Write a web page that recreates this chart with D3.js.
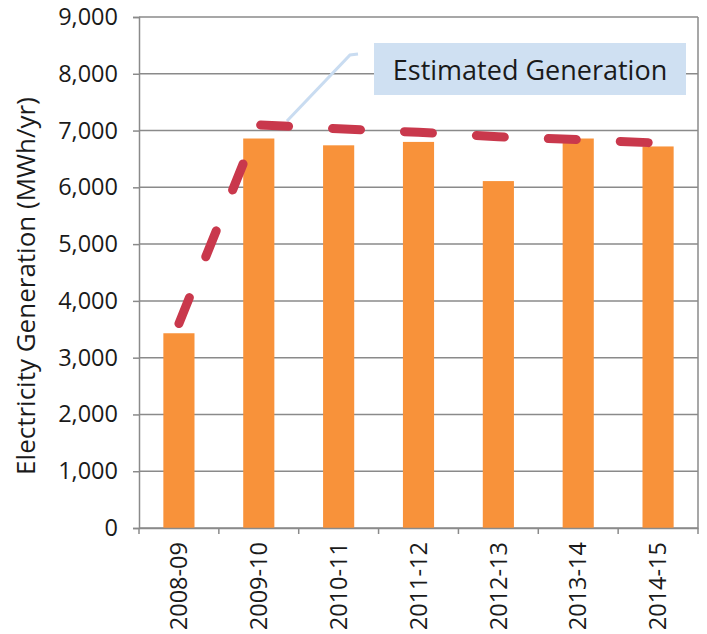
<!DOCTYPE html>
<html><head><meta charset="utf-8">
<script src="https://cdn.jsdelivr.net/npm/d3@7"></script>
<style>
html,body{margin:0;padding:0;background:#fff;}
svg{display:block;}
text{font-family:"Open Sans",sans-serif;fill:#1a1a1a;}
</style></head>
<body>
<svg id="chart" width="707" height="634"></svg>
<script>
const categories = ["2008-09","2009-10","2010-11","2011-12","2012-13","2013-14","2014-15"];
const generation = [3430, 6860, 6740, 6800, 6110, 6860, 6720];
const estimated = [3600, 7100, 7030, 6970, 6890, 6840, 6780];
const yTicks = [0,1000,2000,3000,4000,5000,6000,7000,8000,9000];
const yTitle = "Electricity Generation (MWh/yr)";
const calloutText = "Estimated Generation";

const svg = d3.select("#chart");
const L = 139, R = 698, T = 17, B = 528;

const x = d3.scaleBand().domain(categories).range([L, R]).paddingInner(0.61).paddingOuter(0.305);
const y = d3.scaleLinear().domain([0, 9000]).range([B, T]);

const gridColor = "#8a8a8a";

// gridlines
svg.append("g").selectAll("line").data(yTicks).join("line")
  .attr("x1", L).attr("x2", R)
  .attr("y1", d => y(d)).attr("y2", d => y(d))
  .attr("stroke", gridColor).attr("stroke-width", 1.5);

// right border
svg.append("line").attr("x1", R).attr("x2", R).attr("y1", T).attr("y2", B)
  .attr("stroke", gridColor).attr("stroke-width", 1.5);

// bars
svg.append("g").selectAll("rect").data(generation).join("rect")
  .attr("x", (d, i) => x(categories[i]))
  .attr("width", x.bandwidth())
  .attr("y", d => y(d))
  .attr("height", d => y(0) - y(d))
  .attr("fill", "#f8923a");

// y axis
const yAxis = d3.axisLeft(y).tickValues(yTicks).tickSize(6).tickPadding(15)
  .tickFormat(d3.format(","));
const gy = svg.append("g").attr("transform", `translate(${L},0)`).call(yAxis);
gy.select(".domain").attr("stroke", gridColor).attr("stroke-width", 1.5);
gy.selectAll(".tick line").attr("stroke", gridColor).attr("stroke-width", 1.5);
gy.selectAll(".tick text").attr("font-size", 23.5).attr("font-family", "Open Sans").attr("fill", "#1a1a1a");

// x axis
const xAxis = d3.axisBottom(x).tickSize(0);
const gx = svg.append("g").attr("transform", `translate(0,${B})`).call(xAxis);
gx.select(".domain").attr("stroke", gridColor).attr("stroke-width", 1.5);
gx.selectAll(".tick text")
  .attr("font-size", 23.5).attr("font-family", "Open Sans").attr("fill", "#1a1a1a")
  .attr("transform", "rotate(-90)")
  .attr("text-anchor", "end")
  .attr("x", -14).attr("y", 0).attr("dy", "0.35em");
// boundary ticks on x axis
const bounds = categories.map(c => x(c) - x.step() * x.paddingInner() / 2).concat([R]);
svg.append("g").selectAll("line").data(bounds).join("line")
  .attr("x1", d => d).attr("x2", d => d)
  .attr("y1", B).attr("y2", B + 6)
  .attr("stroke", gridColor).attr("stroke-width", 1.5);

// y title
svg.append("text")
  .attr("transform", `translate(35,286) rotate(-90)`)
  .attr("text-anchor", "middle")
  .attr("font-size", 26)
  .text(yTitle);

// callout connector
svg.append("path")
  .attr("d", d3.line()([[287, 121], [350, 55], [358, 54]]))
  .attr("fill", "none").attr("stroke", "#c9dcf1").attr("stroke-width", 3);

// callout box
svg.append("rect").attr("x", 374).attr("y", 43).attr("width", 312).attr("height", 52)
  .attr("fill", "#cfe0f2");
svg.append("text").attr("x", 530).attr("y", 80).attr("text-anchor", "middle")
  .attr("font-size", 27).text(calloutText);

// estimated dashed line
const line = d3.line()
  .x((d, i) => x(categories[i]) + x.bandwidth() / 2)
  .y(d => y(d));
svg.append("path")
  .datum(estimated)
  .attr("d", line)
  .attr("fill", "none")
  .attr("stroke", "#c9384c")
  .attr("stroke-width", 9)
  .attr("stroke-linecap", "round")
  .attr("stroke-dasharray", "28,44");
</script>
</body></html>
